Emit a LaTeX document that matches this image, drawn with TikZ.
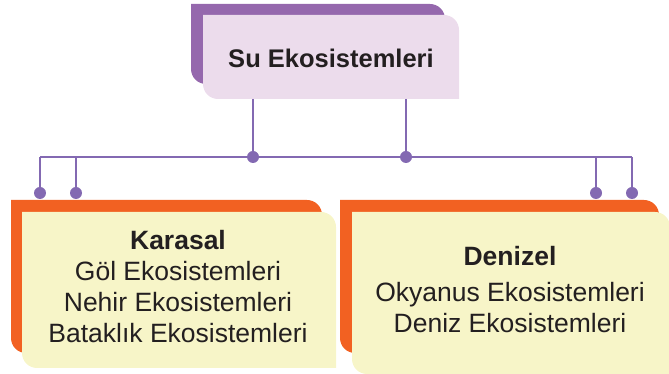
\documentclass[tikz,border=0pt]{standalone}
\usepackage{fontspec}
\setmainfont{Liberation Sans}
\usepackage{tikz}

\definecolor{lilac}{HTML}{9568AD}
\definecolor{lilaclight}{HTML}{ECDCEC}
\definecolor{orangeback}{HTML}{F26122}
\definecolor{cream}{HTML}{F7F5C8}
\definecolor{linkcol}{HTML}{8369B2}
\definecolor{ink}{HTML}{231F20}

% card with round top right and bottom left corners
\newcommand{\tabcard}[5]{%
  \fill[#1] (#2,#5) -- (#4-15,#5) arc[start angle=90,end angle=0,radius=15]
    -- (#4,#3) -- (#2+15,#3) arc[start angle=270,end angle=180,radius=15] -- cycle;}

\begin{document}
\begin{tikzpicture}
  [x=1pt,y=1pt,
   dot/.style={fill=linkcol,circle,inner sep=0pt,minimum size=12pt},
   link/.style={draw=linkcol,line width=1.3pt},
   txt/.style={text=ink,align=center,font=\fontsize{26.5}{31}\selectfont}
  ]
  \useasboundingbox (0,0) rectangle (669,374);
  \clip (0,0) rectangle (669,374);

  % top card
  \tabcard{lilac}{191}{290}{445}{370}
  \tabcard{lilaclight}{203}{275}{459}{359}
  \node[txt,font=\fontsize{25.5}{31}\selectfont\bfseries] (su) at (331,316) {Su Ekosistemleri};

  % lower cards
  \tabcard{orangeback}{11}{21}{322}{174}
  \tabcard{cream}{22}{6}{336}{162}
  \tabcard{orangeback}{340}{21}{659}{174}
  \tabcard{cream}{352}{0}{670}{162}
  \node[txt] (karasal) at (178,87)
    {\textbf{Karasal}\\Göl Ekosistemleri\\Nehir Ekosistemleri\\Bataklık Ekosistemleri};
  \node[txt] (denizel) at (510,84)
    {\textbf{Denizel}\\[5pt]Okyanus Ekosistemleri\\Deniz Ekosistemleri};

  % connectors
  \coordinate (sul) at (253,275);
  \coordinate (sur) at (406,275);
  \coordinate (ml) at (253,217);
  \coordinate (mr) at (406,217);
  \coordinate (barl) at (40,217);
  \coordinate (barr) at (632,217);
  \coordinate (k1) at (40,181);
  \coordinate (k2) at (76,181);
  \coordinate (d1) at (596,181);
  \coordinate (d2) at (632,181);
  \draw[link] (sul) -- (ml);
  \draw[link] (sur) -- (mr);
  \draw[link] (barl) -- (barr);
  \foreach \n in {k1,k2,d1,d2}
     \draw[link] (\n |- barl) -- (\n);
  \foreach \n in {ml,mr,k1,k2,d1,d2}
     \node[dot] (dot-\n) at (\n) {};

\end{tikzpicture}
\end{document}
